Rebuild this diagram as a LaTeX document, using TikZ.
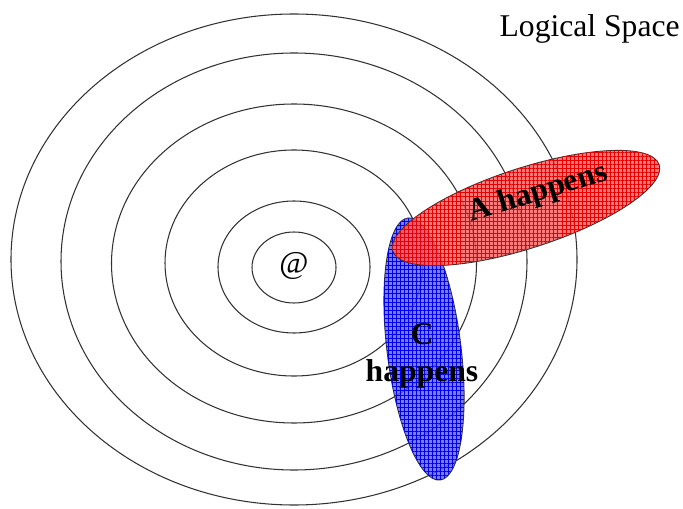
\documentclass[tikz,border=0pt]{standalone}
\usepackage{fontspec}
\setmainfont{Liberation Serif}
\usepackage{tikz}
\usetikzlibrary{patterns.meta, positioning}
\definecolor{zonered}{RGB}{255,90,90}
\definecolor{zoneblue}{RGB}{90,90,255}
\definecolor{gridred}{RGB}{235,0,0}
\definecolor{gridblue}{RGB}{0,0,235}
\definecolor{ringgray}{RGB}{50,50,50}
\tikzset{
  ring/.style={draw=ringgray, line width=0.6pt},
  zone/.style={draw=black!80, line width=0.5pt, fill opacity=0.8},
  redzone/.style={zone, fill=zonered,
    postaction={pattern={Hatch[angle=0,distance=2.3pt,line width=0.35pt]}, pattern color=gridred}},
  bluezone/.style={zone, fill=zoneblue,
    postaction={pattern={Hatch[angle=0,distance=2.3pt,line width=0.35pt]}, pattern color=gridblue}},
  plaintext/.style={font=\fontsize{18}{21.5}\selectfont, inner sep=0pt},
  zonetext/.style={font=\fontsize{18}{21.5}\selectfont\bfseries, inner sep=0pt, align=center}
}

\begin{document}
\begin{tikzpicture}
  \useasboundingbox (0,0) rectangle (13.66,10.16);

  % Nested rings of worlds around @
  \foreach \cy/\rx/\ry in {4.81/0.84/0.71, 4.82/1.52/1.32, 4.90/2.58/2.26,
                           4.89/3.65/3.19, 4.93/4.66/4.17, 4.97/5.66/4.91} {
    \draw[ring] (5.88,\cy) ellipse [x radius=\rx, y radius=\ry];
  }

  % Regions where C and A happen
  \coordinate (ccent) at (8.48,3.18);
  \coordinate (acent) at (10.52,6.00);
  \draw[bluezone, rotate around={7:(ccent)}] (ccent) ellipse [x radius=0.74, y radius=2.64];
  \draw[redzone, rotate around={18:(acent)}] (acent) ellipse [x radius=2.80, y radius=0.80];

  % Labels
  \node[plaintext] (actual) at (5.88,4.84) {@};
  \node[plaintext, anchor=base east] (title) at (13.60,9.42) {Logical Space};
  \node[zonetext, anchor=base, rotate=17] (alabel) at (10.81,6.15) {A happens};
  \node[zonetext] (clabel) at (8.44,3.04) {C\\happens};
\end{tikzpicture}
\end{document}
